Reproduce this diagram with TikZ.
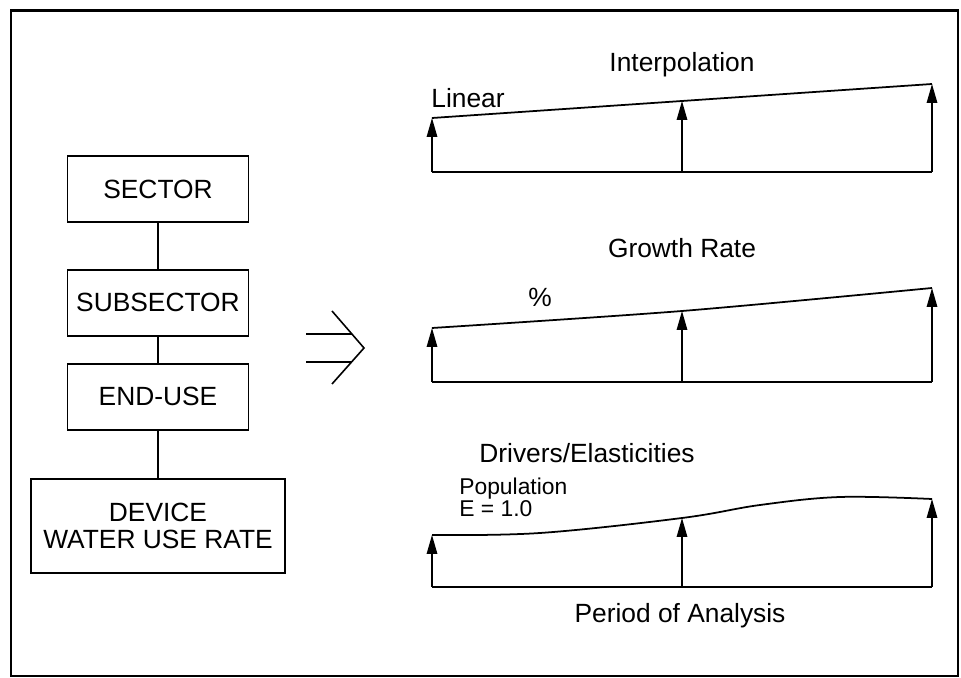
\documentclass[tikz,border=0pt]{standalone}
\usepackage{fontspec}
\setmainfont{Liberation Sans}
\usetikzlibrary{arrows.meta, positioning}
\newcommand{\textegrand}{\fontsize{15pt}{15.5pt}\selectfont}
\newcommand{\textepetit}{\fontsize{13pt}{12.5pt}\selectfont}

\begin{document}
\begin{tikzpicture}[x=0.02cm, y=-0.02cm, >={Triangle[length=0.38cm, width=0.21cm]},
  every node/.style={font=\textegrand, inner sep=0pt},
  boite/.style={draw, line width=1.1pt, minimum width=3.62cm, minimum height=1.32cm, align=center},
  trait/.style={line width=0.9pt}]

  \useasboundingbox (0,0) rectangle (961,678);

  % Cadre
  \draw[line width=1.3pt] (11,10) rectangle (958,676);
  \draw[line width=1.3pt] (11,11) -- (958,11);

  % Hierarchie
  \node[boite] (sector) at (158,189) {SECTOR};
  \node[boite, below=0.92cm of sector] (subsector) {SUBSECTOR};
  \node[boite, below=0.52cm of subsector] (enduse) {END-USE};
  \node[boite, below=0.94cm of enduse, minimum width=5.08cm, minimum height=1.88cm] (device) {DEVICE\\WATER USE RATE};
  \draw[trait] (sector) -- (subsector);
  \draw[trait] (subsector) -- (enduse);
  \draw[trait] (enduse) -- (device);

  % Fleche
  \draw[trait] (306,334) -- (352,334);
  \draw[trait] (306,362) -- (352,362);
  \draw[trait] (332,311) -- (364,348) -- (332,384);

  % Abscisses des periodes
  \pgfmathsetmacro{\xa}{432}
  \pgfmathsetmacro{\xb}{682}
  \pgfmathsetmacro{\xc}{932}

  % Interpolation
  \node[anchor=base] (interp) at (\xb,72) {Interpolation};
  \node[anchor=base west] (lineaire) at (431,108) {Linear};
  \draw[trait] (\xa,172) -- (\xc,172);
  \draw[line width=1pt] (\xa,118) -- (\xc,84);
  \draw[trait, ->] (\xa,172) -- (\xa,118);
  \draw[trait, ->] (\xb,172) -- (\xb,101);
  \draw[trait, ->] (\xc,172) -- (\xc,84);

  % Taux de croissance
  \node[anchor=base] (croissance) at (\xb,258) {Growth Rate};
  \node[anchor=base] (pourcent) at (540,307) {\%};
  \draw[trait] (\xa,382) -- (\xc,382);
  \draw[line width=1pt] plot[smooth] coordinates {(\xa,328) (\xb,311) (\xc,288)};
  \draw[trait, ->] (\xa,382) -- (\xa,328);
  \draw[trait, ->] (\xb,382) -- (\xb,311);
  \draw[trait, ->] (\xc,382) -- (\xc,288);

  % Moteurs / elasticites
  \node[anchor=base] (moteurs) at (587,463) {Drivers/Elasticities};
  \node[anchor=base west, font=\textepetit] (population) at (459,495) {Population};
  \node[anchor=base west, font=\textepetit] (elasticite) at (459,517) {E = 1.0};
  \draw[trait] (\xa,587) -- (\xc,587);
  \draw[line width=1pt] plot[smooth, tension=0.6] coordinates {(\xa,535) (540,533) (\xb,518) (760,505) (840,497) (\xc,499)};
  \draw[trait, ->] (\xa,587) -- (\xa,535);
  \draw[trait, ->] (\xb,587) -- (\xb,518);
  \draw[trait, ->] (\xc,587) -- (\xc,499);
  \node[anchor=base] (periode) at (680,623) {Period of Analysis};

\end{tikzpicture}
\end{document}
